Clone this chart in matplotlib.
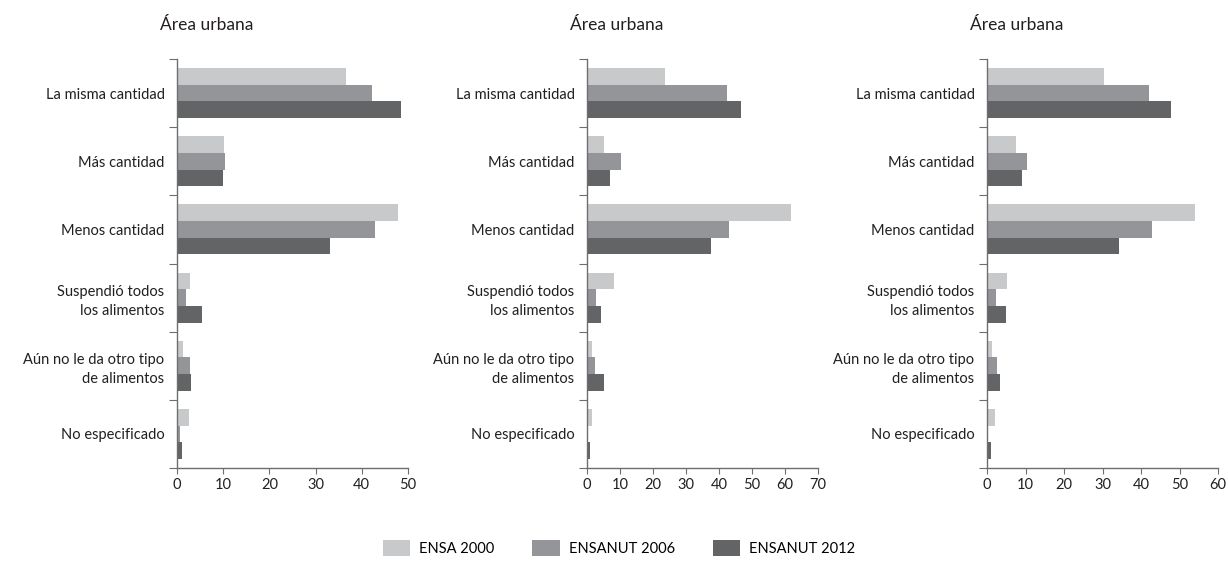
import matplotlib.pyplot as plt
import numpy as np

plt.rcParams['font.family'] = ['Lato', 'DejaVu Sans']

categorias = ["La misma cantidad", "Más cantidad", "Menos cantidad",
              "Suspendió todos\nlos alimentos", "Aún no le da otro tipo\nde alimentos",
              "No especificado"]
series = ["ENSA 2000", "ENSANUT 2006", "ENSANUT 2012"]
colores = ["#c8c9cb", "#939598", "#636466"]
titulos = ["Área urbana", "Área urbana", "Área urbana"]

# valores por panel: [ENSA 2000, ENSANUT 2006, ENSANUT 2012]
panel1_ensa2000 = [36.6, 10.1, 47.8, 2.8, 1.2, 2.6]
panel1_ensanut2006 = [42.3, 10.4, 42.8, 2.0, 2.8, 0.6]
panel1_ensanut2012 = [48.4, 9.9, 33.2, 5.4, 3.0, 1.0]

panel2_ensa2000 = [23.5, 5.0, 61.7, 8.3, 1.6, 1.6]
panel2_ensanut2006 = [42.3, 10.4, 42.9, 2.8, 2.5, 0.1]
panel2_ensanut2012 = [46.8, 7.1, 37.7, 4.3, 5.0, 1.0]

panel3_ensa2000 = [30.4, 7.6, 54.0, 5.3, 1.4, 2.2]
panel3_ensanut2006 = [42.1, 10.5, 42.9, 2.4, 2.7, 0.2]
panel3_ensanut2012 = [47.8, 9.2, 34.3, 5.0, 3.5, 1.1]

paneles = [
    (panel1_ensa2000, panel1_ensanut2006, panel1_ensanut2012),
    (panel2_ensa2000, panel2_ensanut2006, panel2_ensanut2012),
    (panel3_ensa2000, panel3_ensanut2006, panel3_ensanut2012),
]
limites = [50, 70, 60]

fig = plt.figure(figsize=(12.28, 5.67), dpi=100)
W, H = 1228, 567
izquierdas = [177, 587, 987]
ancho = 231
arriba, abajo = 59, 468

n = len(categorias)
y = np.arange(n)
h = 0.245
eje_color = "#6d6e70"
texto = "#231f20"

for i, datos in enumerate(paneles):
    ax = fig.add_axes([izquierdas[i] / W, 1 - abajo / H, ancho / W, (abajo - arriba) / H])
    for j, vals in enumerate(datos):
        ax.barh(y + (j - 1) * h, vals, height=h, color=colores[j], label=series[j])
    ax.set_ylim(n - 0.5, -0.5)
    ax.set_xlim(0, limites[i])
    ax.set_xticks(range(0, limites[i] + 1, 10))
    ax.set_yticks(np.arange(-0.5, n, 1), minor=False)
    ax.set_yticklabels([])
    ax.set_yticks(y, minor=True)
    etiquetas = ax.set_yticklabels(categorias, minor=True, ha="right", fontsize=10.5, color=texto)
    for e in etiquetas:
        e.set_linespacing(1.45)
    ax.tick_params(axis="y", which="minor", length=0, pad=9)
    ax.tick_params(axis="y", which="major", length=6, direction="out", color=eje_color)
    ax.tick_params(axis="x", length=4, color=eje_color, labelsize=10.5, labelcolor=texto)
    for s in ["top", "right"]:
        ax.spines[s].set_visible(False)
    for s in ["left", "bottom"]:
        ax.spines[s].set_color(eje_color)
        ax.spines[s].set_linewidth(1)
    fig.text((izquierdas[i] + 30) / W, 1 - 25 / H, titulos[i], ha="center", va="center",
             fontsize=12.5, color=texto)

handles, labels = ax.get_legend_handles_labels()
fig.legend(handles, labels, loc="center", bbox_to_anchor=(619 / W, 1 - 548 / H), ncol=3,
           frameon=False, fontsize=10.5, handlelength=1.9, handleheight=1.3,
           columnspacing=2.6, handletextpad=0.6)

fig.savefig("out.png", dpi=100)
